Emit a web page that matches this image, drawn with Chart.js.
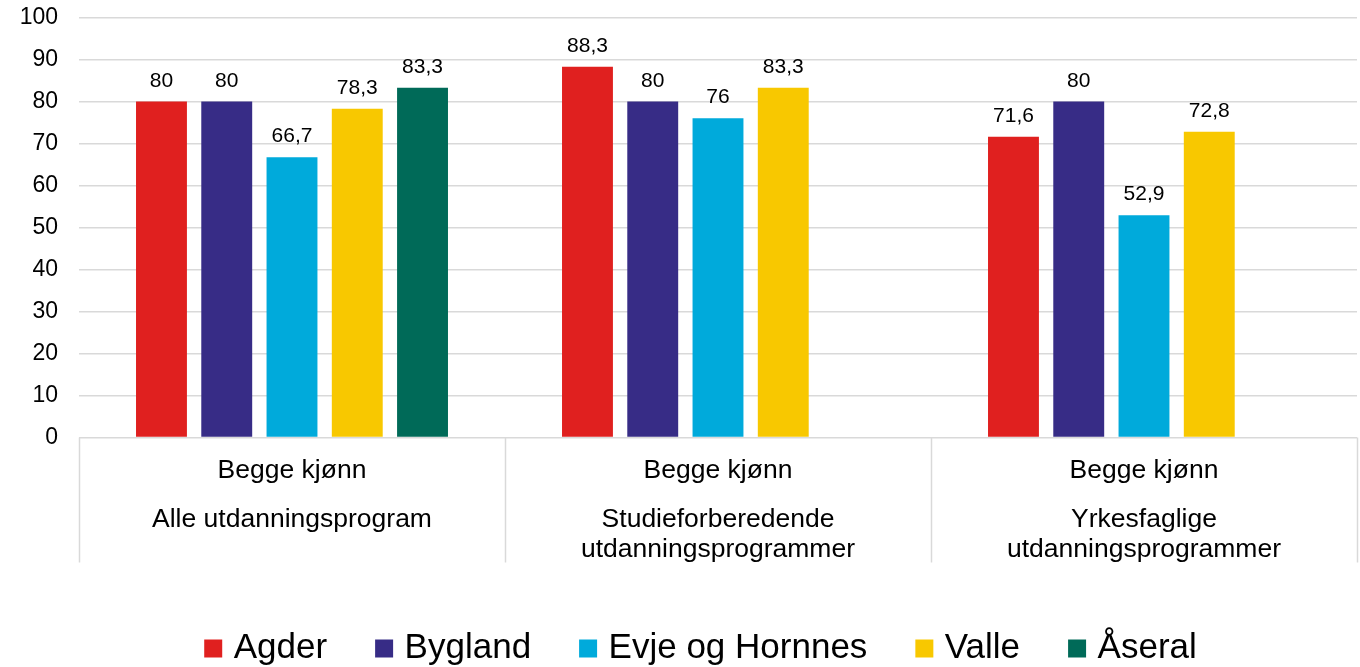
<!DOCTYPE html>
<html lang="no">
<head>
<meta charset="utf-8">
<title>Begge kjønn - utdanningsprogram</title>
<script src="https://cdn.jsdelivr.net/npm/chart.js@4.4.1/dist/chart.umd.min.js"></script>
<style>
    html, body { margin: 0; padding: 0; background: #fff; overflow: hidden; }
    #wrap { width: 1360px; height: 667px; position: relative; }
</style>
</head>
<body>
<div id="wrap"><canvas id="chart"></canvas></div>
<script>
// Two-level categories, as on the Excel axis
const genderLabels = ['Begge kjønn', 'Begge kjønn', 'Begge kjønn'];
const programLabels = [
    ['Alle utdanningsprogram'],
    ['Studieforberedende', 'utdanningsprogrammer'],
    ['Yrkesfaglige', 'utdanningsprogrammer']
];

const seriesNames = ['Agder', 'Bygland', 'Evje og Hornnes', 'Valle', 'Åseral'];
const agder = [80, 88.3, 71.6];
const bygland = [80, 80, 80];
const evje = [66.7, 76, 52.9];
const valle = [78.3, 83.3, 72.8];
const aseral = [83.3, null, null];

const yTicks = [0, 10, 20, 30, 40, 50, 60, 70, 80, 90, 100];

const colors = ['#E0201F', '#372C86', '#00AADB', '#F8C800', '#006A58'];
const FONT = "'Liberation Sans', Arial, sans-serif";

document.addEventListener('DOMContentLoaded', () => {
    const ctx = document.getElementById('chart').getContext('2d');
    const seriesValues = [agder, bygland, evje, valle, aseral];

    const fmt = v => String(v).replace('.', ',');

    // value labels above each bar
    const valueLabels = {
        id: 'valueLabels',
        afterDatasetsDraw(chart) {
            const c = chart.ctx;
            c.save();
            c.font = `21px ${FONT}`;
            c.fillStyle = '#000';
            c.textAlign = 'center';
            c.textBaseline = 'alphabetic';
            chart.data.datasets.forEach((ds, di) => {
                const meta = chart.getDatasetMeta(di);
                meta.data.forEach((el, i) => {
                    const v = ds.data[i];
                    if (v === null || v === undefined) return;
                    c.fillText(fmt(v), el.x, el.y - 15);
                });
            });
            c.restore();
        }
    };

    // multi-level category axis: separators + two rows of labels
    const categoryAxis = {
        id: 'categoryAxis',
        afterDraw(chart) {
            const c = chart.ctx;
            const xs = chart.scales.x;
            const area = chart.chartArea;
            const half = (xs.getPixelForValue(1) - xs.getPixelForValue(0)) / 2;
            const bottom = area.bottom;
            c.save();
            c.strokeStyle = '#D9D9D9';
            c.lineWidth = 1.5;
            for (let i = 0; i <= genderLabels.length; i++) {
                const x = Math.round(xs.getPixelForValue(0) - half + i * 2 * half) + 0.5;
                c.beginPath();
                c.moveTo(x, bottom);
                c.lineTo(x, bottom + 125);
                c.stroke();
            }
            c.fillStyle = '#000';
            c.textAlign = 'center';
            c.textBaseline = 'alphabetic';
            c.font = `26.5px ${FONT}`;
            genderLabels.forEach((lbl, i) => {
                const x = xs.getPixelForValue(i);
                c.fillText(lbl, x, bottom + 40);
                programLabels[i].forEach((line, j) => {
                    c.fillText(line, x, bottom + 89 + j * 30);
                });
            });
            c.restore();
        }
    };

    // the reference legend sits a bit right of the canvas centre
    const legendShift = {
        id: 'legendShift',
        afterLayout(chart) {
            const lg = chart.legend;
            if (!lg) return;
            lg.left += 25;
            lg.right += 25;
        }
    };

    new Chart(ctx, {
        type: 'bar',
        data: {
            labels: genderLabels.map((g, i) => g + ' ' + programLabels[i].join(' ')),
            datasets: seriesNames.map((name, i) => ({
                label: name,
                data: seriesValues[i],
                backgroundColor: colors[i],
                borderWidth: 0,
                categoryPercentage: 0.766,
                barPercentage: 0.78
            }))
        },
        options: {
            responsive: true,
            maintainAspectRatio: false,
            animation: false,
            layout: { padding: { left: 0, right: 3, top: 17.5, bottom: -9 } },
            scales: {
                x: {
                    ticks: { display: false },
                    grid: { display: false },
                    border: { display: false },
                    afterFit: scale => { scale.height = 139.5; }
                },
                y: {
                    min: 0,
                    max: 100,
                    afterBuildTicks: scale => { scale.ticks = yTicks.map(v => ({ value: v })); },
                    ticks: {
                        padding: 21,
                        color: '#000',
                        font: { family: FONT, size: 23 }
                    },
                    grid: { color: '#D9D9D9', lineWidth: 1.5, drawTicks: false },
                    border: { display: false },
                    afterFit: scale => {
                        scale.width = 79;
                        // tick padding is only meant horizontally here
                        scale.paddingTop = 0;
                        scale.paddingBottom = 0;
                    }
                }
            },
            plugins: {
                legend: {
                    position: 'bottom',
                    labels: {
                        usePointStyle: true,
                        pointStyle: 'rect',
                        boxWidth: 6,
                        boxHeight: 18,
                        padding: 54,
                        color: '#000',
                        font: { family: FONT, size: 35 }
                    }
                },
                tooltip: { enabled: false }
            }
        },
        plugins: [valueLabels, categoryAxis, legendShift]
    });
});
</script>
</body>
</html>
